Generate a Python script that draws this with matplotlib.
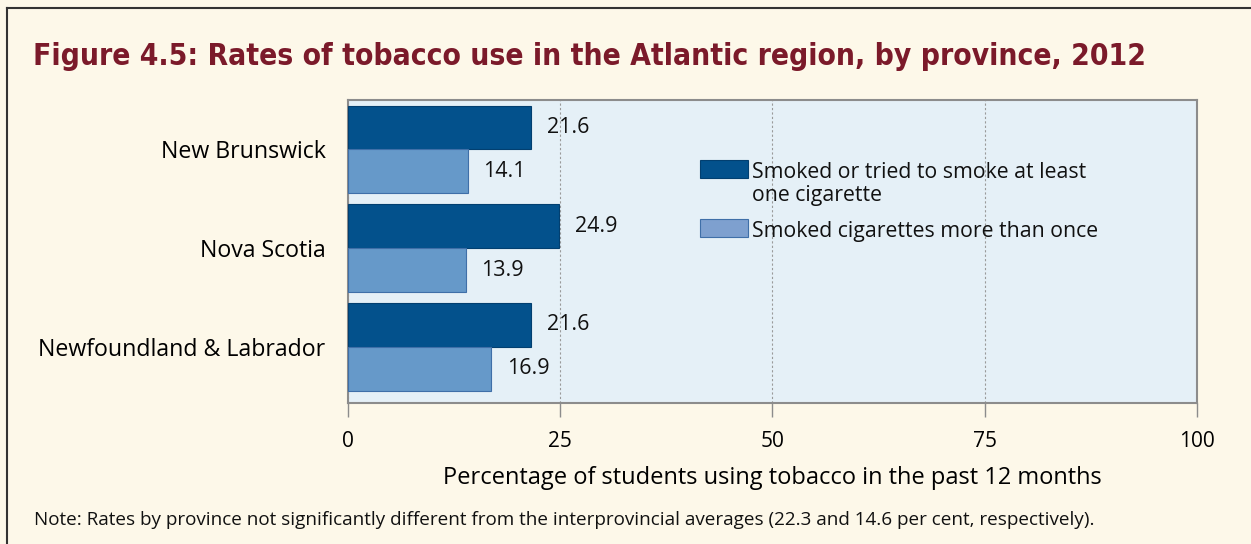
import matplotlib.pyplot as plt
from matplotlib.patches import Rectangle
import numpy as np

# 数据
provinces = ["New Brunswick", "Nova Scotia", "Newfoundland & Labrador"]
tried = [21.6, 24.9, 21.6]
more_than_once = [14.1, 13.9, 16.9]
xticks = [0, 25, 50, 75, 100]
legend_labels = ["Smoked or tried to smoke at least\none cigarette", "Smoked cigarettes more than once"]

plt.rcParams['font.family'] = ['Open Sans', 'DejaVu Sans']

fig = plt.figure(figsize=(12.51, 5.44), dpi=100)
fig.patch.set_facecolor('#fdf8e9')

# 外框（左、上）
fig.add_artist(plt.Line2D([0.0056, 0.0056], [0, 0.985], color='#333333', lw=1.5, transform=fig.transFigure))
fig.add_artist(plt.Line2D([0.0056, 1], [0.985, 0.985], color='#333333', lw=1.5, transform=fig.transFigure))

title = fig.text(0.026, 0.88, "Figure 4.5: Rates of tobacco use in the Atlantic region, by province, 2012",
                 family='DejaVu Sans', stretch='condensed', weight='bold', fontsize=29,
                 color='#7b1a2a', va='baseline')
# 标题缩放到原图宽度（约1110像素）
renderer = fig.canvas.get_renderer()
w = title.get_window_extent(renderer).width
title.set_fontsize(29 * 1110 / w)

ax = fig.add_axes([0.278, 0.259, 0.679, 0.557])
ax.set_facecolor('#e5f0f7')

y = np.arange(len(provinces))
h = 0.445
ax.barh(y - h / 2, tried, height=h, color='#03518c', edgecolor='#023f70', lw=0.8, zorder=3)
ax.barh(y + h / 2, more_than_once, height=h, color='#6699c9', edgecolor='#3f6fa8', lw=0.8, zorder=3)

for yy, v in zip(y - h / 2, tried):
    ax.text(v + 1.8, yy, f"{v}", va='center', ha='left', fontsize=15.5, color='#111111')
for yy, v in zip(y + h / 2, more_than_once):
    ax.text(v + 1.8, yy, f"{v}", va='center', ha='left', fontsize=15.5, color='#111111')

ax.set_xlim(0, 100)
ax.set_ylim(2.57, -0.5)
ax.set_xticks(xticks)
ax.set_xticklabels([str(t) for t in xticks], fontsize=15)
ax.tick_params(axis='x', direction='out', length=10, width=1, color='#8c8c8c', pad=10)
ax.set_yticks(y)
ax.set_yticklabels(provinces, fontsize=16.7)
ax.tick_params(axis='y', length=0, pad=16)
ax.xaxis.grid(True, linestyle=(0, (2, 2)), color='#9a9a9a', lw=0.8, zorder=0)
for s in ax.spines.values():
    s.set_color('#8c8c8c')
    s.set_linewidth(1.5)

ax.set_xlabel("Percentage of students using tobacco in the past 12 months", fontsize=17, labelpad=10)

# 图例（手动绘制，色块与第一行文字对齐）
ax.add_patch(Rectangle((0.4146, 0.743), 0.0565, 0.059, transform=ax.transAxes,
                       facecolor='#03518c', edgecolor='#023f70', lw=0.8, zorder=4))
ax.add_patch(Rectangle((0.4146, 0.548), 0.0565, 0.059, transform=ax.transAxes,
                       facecolor='#7ea0cf', edgecolor='#3f6fa8', lw=0.8, zorder=4))
ax.text(0.476, 0.796, legend_labels[0], transform=ax.transAxes, fontsize=15.3,
        va='top', ha='left', linespacing=1.1, color='#111111', zorder=4)
ax.text(0.476, 0.601, legend_labels[1], transform=ax.transAxes, fontsize=15.3,
        va='top', ha='left', color='#111111', zorder=4)

fig.text(0.027, 0.045, "Note: Rates by province not significantly different from the interprovincial averages (22.3 and 14.6 per cent, respectively).",
         fontsize=13.6, color='#111111', va='center')

plt.savefig('out.png', dpi=100, facecolor=fig.get_facecolor())
